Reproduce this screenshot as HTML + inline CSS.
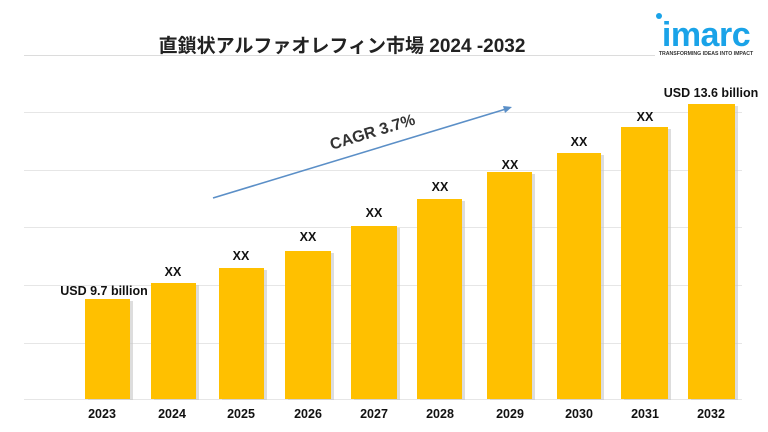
<!DOCTYPE html>
<html><head><meta charset="utf-8"><style>
html,body{margin:0;padding:0;background:#fff;}
svg{display:block;}
text{font-family:"Liberation Sans","Noto Sans CJK JP",sans-serif;}
</style></head><body>
<svg width="768" height="432" viewBox="0 0 768 432" xmlns="http://www.w3.org/2000/svg">
<rect width="768" height="432" fill="#fff"/>
<line x1="24" y1="55.5" x2="655" y2="55.5" stroke="#dcdcdc" stroke-width="1"/>
<g stroke="#e6e6e6" stroke-width="1">
<line x1="24" y1="112.5" x2="742" y2="112.5"/>
<line x1="24" y1="170.5" x2="742" y2="170.5"/>
<line x1="24" y1="227.5" x2="742" y2="227.5"/>
<line x1="24" y1="285.5" x2="742" y2="285.5"/>
<line x1="24" y1="343.5" x2="742" y2="343.5"/>
<line x1="24" y1="399.5" x2="742" y2="399.5"/>
</g>
<text x="342" y="52" text-anchor="middle" font-size="19" font-weight="bold" fill="#222">直鎖状アルファオレフィン市場 2024 -2032</text>
<!-- logo -->
<circle cx="659" cy="16" r="3" fill="#1aa3e8"/>
<text x="706" y="46" text-anchor="middle" font-size="34" font-weight="bold" fill="#1aa3e8" letter-spacing="-0.5">imarc</text>
<text x="706" y="55" text-anchor="middle" font-size="5.2" font-weight="bold" fill="#333">TRANSFORMING IDEAS INTO IMPACT</text>
<!-- bars -->
<g fill="#c8c8c8" opacity="0.6">
<rect x="88" y="301" width="45" height="99"/>
<rect x="154" y="285" width="45" height="115"/>
<rect x="222" y="270" width="45" height="130"/>
<rect x="288" y="253" width="46" height="147"/>
<rect x="354" y="228" width="46" height="172"/>
<rect x="420" y="201" width="45" height="199"/>
<rect x="490" y="174" width="45" height="226"/>
<rect x="560" y="155" width="44" height="245"/>
<rect x="624" y="129" width="47" height="271"/>
<rect x="691" y="106" width="47" height="294"/>
</g>
<g fill="#ffc000">
<rect x="85" y="299" width="45" height="100"/>
<rect x="151" y="283" width="45" height="116"/>
<rect x="219" y="268" width="45" height="131"/>
<rect x="285" y="251" width="46" height="148"/>
<rect x="351" y="226" width="46" height="173"/>
<rect x="417" y="199" width="45" height="200"/>
<rect x="487" y="172" width="45" height="227"/>
<rect x="557" y="153" width="44" height="246"/>
<rect x="621" y="127" width="47" height="272"/>
<rect x="688" y="104" width="47" height="295"/>
</g>
<g font-size="12.5" font-weight="bold" fill="#111" text-anchor="middle">
<text x="173" y="276">XX</text>
<text x="241" y="260">XX</text>
<text x="308" y="241">XX</text>
<text x="374" y="217">XX</text>
<text x="440" y="191">XX</text>
<text x="510" y="169">XX</text>
<text x="579" y="146">XX</text>
<text x="645" y="121">XX</text>
</g>
<text x="104" y="295" text-anchor="middle" font-size="12.5" font-weight="bold" fill="#111">USD 9.7 billion</text>
<text x="711" y="97" text-anchor="middle" font-size="12.5" font-weight="bold" fill="#111">USD 13.6 billion</text>
<g font-size="12.5" font-weight="bold" fill="#111" text-anchor="middle">
<text x="102" y="418">2023</text>
<text x="172" y="418">2024</text>
<text x="241" y="418">2025</text>
<text x="308" y="418">2026</text>
<text x="374" y="418">2027</text>
<text x="440" y="418">2028</text>
<text x="510" y="418">2029</text>
<text x="579" y="418">2030</text>
<text x="645" y="418">2031</text>
<text x="711" y="418">2032</text>
</g>
<!-- CAGR arrow -->
<line x1="213" y1="198" x2="506" y2="109" stroke="#5b8fc7" stroke-width="1.6"/>
<polygon points="512,107 503,106 505,113" fill="#5b8fc7"/>
<text x="374" y="137" text-anchor="middle" font-size="16" font-weight="bold" fill="#333" transform="rotate(-17 374 137)">CAGR  3.7%</text>
</svg>
</body></html>
